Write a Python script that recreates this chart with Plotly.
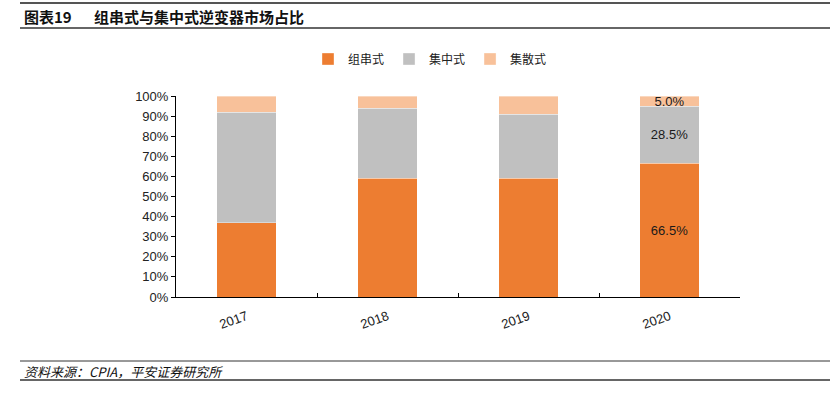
import plotly.graph_objects as go

years = ["2017", "2018", "2019", "2020"]
string_type = [37.0, 59.0, 59.0, 66.5]      # 组串式
central_type = [55.0, 35.0, 32.0, 28.5]     # 集中式
distributed_type = [8.0, 6.0, 9.0, 5.0]     # 集散式
labeled_year = "2020"

series_names = ["组串式", "集中式", "集散式"]
colors = ["#ED7D31", "#C0C0C0", "#F8C19A"]

FONT = "Liberation Sans, Arial, Noto Sans CJK SC, sans-serif"
CJK = "Noto Sans CJK SC, sans-serif"

def labels(vals):
    return [f"{v:.1f}%" if y == labeled_year else "" for y, v in zip(years, vals)]

fig = go.Figure()
for name, vals, col in zip(series_names, [string_type, central_type, distributed_type], colors):
    fig.add_trace(go.Bar(
        x=years, y=vals, name=name,
        marker=dict(color=col, line=dict(width=0.6, color="rgba(255,255,255,0.6)")),
        text=labels(vals), textposition="inside", insidetextanchor="middle",
        textfont=dict(family=FONT, size=13, color="#1a1a1a"),
        hoverinfo="skip",
    ))

# plot area in px
L, R, T, B = 176, 740, 96, 297
W, H = 830, 393
pw, ph = R - L, B - T
px = lambda x: (x - L) / pw
py = lambda y: (B - y) / ph

fig.update_layout(
    barmode="stack",
    width=W, height=H,
    margin=dict(l=L, r=W - R, t=T, b=H - B),
    paper_bgcolor="white", plot_bgcolor="white",
    bargap=0.58,
    uniformtext=dict(minsize=13, mode="show"),
    showlegend=True,
    legend=dict(orientation="h", x=px(430), xanchor="center", y=py(59), yanchor="middle",
                font=dict(family=CJK, size=12, color="#222"), itemwidth=30,
                traceorder="normal", bgcolor="rgba(0,0,0,0)"),
    xaxis=dict(type="category", showline=True, linecolor="#000", linewidth=1,
               ticks="inside", tickson="boundaries", ticklen=4, tickcolor="#000",
               tickangle=-20, ticklabelstandoff=6,
               tickfont=dict(family=FONT, size=13, color="#222"),
               showgrid=False, fixedrange=True),
    yaxis=dict(range=[0, 100], dtick=10, ticksuffix="%", showline=True, linecolor="#000",
               linewidth=1, ticks="outside", ticklen=4, tickcolor="#000",
               tickfont=dict(family=FONT, size=13, color="#222"), showgrid=False,
               zeroline=False, fixedrange=True),
)

# header and footer rules
for y, w, c in [(3, 2, "#555"), (28, 1.5, "#333"), (361, 1, "#333"), (380, 1.5, "#333")]:
    fig.add_shape(type="line", xref="paper", yref="paper", x0=px(20), x1=px(830),
                  y0=py(y), y1=py(y), line=dict(color=c, width=w))

fig.add_annotation(text="<b>图表19</b>", xref="paper", yref="paper",
                   x=px(22), y=py(16), xanchor="left", yanchor="middle", showarrow=False,
                   font=dict(family=CJK, size=15, color="#111"))
fig.add_annotation(text="<b>组串式与集中式逆变器市场占比</b>", xref="paper", yref="paper",
                   x=px(92), y=py(16), xanchor="left", yanchor="middle", showarrow=False,
                   font=dict(family=CJK, size=15, color="#111"))
fig.add_annotation(text="<i>资料来源：CPIA，平安证券研究所</i>", xref="paper", yref="paper",
                   x=px(22), y=py(371), xanchor="left", yanchor="middle", showarrow=False,
                   font=dict(family=CJK, size=13, color="#111"))

fig.write_html("out.html", config={"displayModeBar": False, "staticPlot": True},
               post_script="document.body.style.margin='0';document.body.style.padding='0';")
